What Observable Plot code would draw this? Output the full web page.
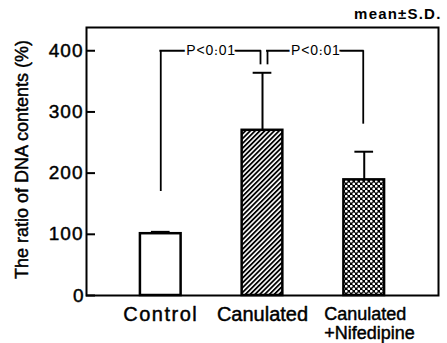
<!DOCTYPE html>
<html>
<head>
<meta charset="utf-8">
<script src="https://cdn.jsdelivr.net/npm/d3@7"></script>
<script src="https://cdn.jsdelivr.net/npm/@observablehq/plot@0.6"></script>
<style>
  html, body { margin: 0; padding: 0; background: #fff; }
  svg { display: block; }
</style>
</head>
<body>
<div id="chart"></div>
<script>
// ---- data ----
const groups = ["Control", "Canulated", "Canulated+Nifedipine"];
const groupLabels = ["Control", "Canulated", "Canulated\n+Nifedipine"];
const means = [101, 270, 189];
const sds = [3, 94, 46];
const yTicks = [0, 100, 200, 300, 400];
const noteText = "mean±S.D.";
const yLabel = "The ratio of DNA contents (%)";

// significance brackets
const pLabels = ["P<0.01", "P<0.01"];
const pFrom = ["Control", "Canulated"];
const pTo = ["Canulated", "Canulated+Nifedipine"];
const pTop = [400, 400];
const pLeftEnd = [170, 377];
const pRightEnd = [377, 280];

// ---- layout / style ----
const W = 447, H = 343;
const mL = 86, mR = 9, mT = 27, mB = 48;
const padIn = 0.6, padOut = 0.53;
const font = "'Liberation Sans', Arial, sans-serif";
const fills = ["white", "url(#hatch)", "url(#cross)"];
const legDx = [[0, -2], [5, -1]]; // pixel nudges of bracket legs (left, right)
const heavy = {stroke: "black", strokeWidth: 0.45};

const xs = d3.scaleBand().domain(groups).range([mL, W - mR]).paddingInner(padIn).paddingOuter(padOut);
const bw = xs.bandwidth(), step = xs.step();

const rows = groups.map((g, i) => ({group: g, label: groupLabels[i], mean: means[i], sd: sds[i]}));
const brackets = pLabels.map((l, i) => ({label: l, from: pFrom[i], to: pTo[i], top: pTop[i], le: pLeftEnd[i], re: pRightEnd[i]}));

const marks = [];
// brackets
brackets.forEach((b, i) => {
  const [dl, dr] = legDx[i];
  marks.push(Plot.ruleX([b], {x: "from", y1: "le", y2: "top", dx: dl, stroke: "black", strokeWidth: 1.8}));
  marks.push(Plot.ruleX([b], {x: "to", y1: "re", y2: "top", dx: dr, stroke: "black", strokeWidth: 1.8}));
  marks.push(Plot.ruleY([b], {x1: "from", x2: "to", y: "top", insetLeft: bw / 2 + dl - 0.9, insetRight: bw / 2 - dr - 0.9, stroke: "black", strokeWidth: 1.8}));
  marks.push(Plot.text([b], {x: "from", y: "top", text: "label", dx: (dl + step + dr) / 2 + 0.5, fontSize: 14, fontFamily: font, fill: "black", stroke: "white", strokeWidth: 5, paintOrder: "stroke"}));
});
// error bars
marks.push(Plot.ruleX(rows, {x: "group", y1: "mean", y2: d => d.mean + d.sd, stroke: "black", strokeWidth: 2}));
marks.push(Plot.tickY(rows, {x: "group", y: d => d.mean + d.sd, insetLeft: 11, insetRight: 11, stroke: "black", strokeWidth: 2}));
// bars
rows.forEach((r, i) => {
  marks.push(Plot.barY([r], {x: "group", y: "mean", fill: fills[i], stroke: "black", strokeWidth: 2.5}));
});
// frame and inward ticks
marks.push(Plot.frame({stroke: "black", strokeWidth: 2}));
marks.push(Plot.tickY(yTicks, {y: d => d, insetRight: (W - mL - mR) - 9, stroke: "black", strokeWidth: 2}));
// tick labels
marks.push(Plot.text(yTicks, {y: d => d, text: d => String(d), frameAnchor: "left", textAnchor: "end", dx: -3, fontSize: 19, fontFamily: font, fill: "black", ...heavy}));
// y label
marks.push(Plot.text([yLabel], {frameAnchor: "left", textAnchor: "middle", rotate: -90, dx: -64, dy: -2, fontSize: 18, fontFamily: font, fill: "black", ...heavy}));
// x labels
marks.push(Plot.text(rows.slice(0, 2), {x: "group", text: "label", frameAnchor: "bottom", lineAnchor: "top", dy: 11, fontSize: 20, fontFamily: font, fill: "black", ...heavy}));
marks.push(Plot.text(rows.slice(2), {x: "group", text: "label", frameAnchor: "bottom", lineAnchor: "top", textAnchor: "start", dx: -40, dy: 11, fontSize: 18, lineHeight: 1.05, fontFamily: font, fill: "black", ...heavy}));
// note
marks.push(Plot.text([noteText], {frameAnchor: "top-right", textAnchor: "end", lineAnchor: "bottom", dx: 3, dy: -9, fontSize: 15, fontWeight: "bold", fontFamily: font, fill: "black"}));

const svg = Plot.plot({
  width: W, height: H,
  marginLeft: mL, marginRight: mR, marginTop: mT, marginBottom: mB,
  style: {background: "white", fontFamily: font},
  x: {type: "band", domain: groups, paddingInner: padIn, paddingOuter: padOut, round: false, axis: null},
  y: {domain: [0, 438], axis: null},
  marks
});

// patterns
const defs = d3.select(svg).insert("defs", ":first-child");
const hatch = defs.append("pattern").attr("id", "hatch").attr("patternUnits", "userSpaceOnUse")
  .attr("width", 3.4).attr("height", 3.4).attr("patternTransform", "rotate(45)");
hatch.append("rect").attr("width", 3.4).attr("height", 3.4).attr("fill", "white");
hatch.append("rect").attr("width", 1.8).attr("height", 3.4).attr("fill", "black");
const cross = defs.append("pattern").attr("id", "cross").attr("patternUnits", "userSpaceOnUse")
  .attr("width", 5).attr("height", 5);
cross.append("rect").attr("width", 5).attr("height", 5).attr("fill", "black");
cross.append("circle").attr("cx", 1.25).attr("cy", 1.25).attr("r", 1.35).attr("fill", "white");
cross.append("circle").attr("cx", 3.75).attr("cy", 3.75).attr("r", 1.35).attr("fill", "white");

// typographic spacing
const spacing = {"Control": 1.5, [noteText]: 1.2, "P<0.01": 0.8, "400": 1, "300": 1, "200": 1, "100": 1};
d3.select(svg).selectAll("text").each(function () {
  const s = spacing[this.textContent];
  if (s) this.setAttribute("letter-spacing", s);
});

document.getElementById("chart").appendChild(svg);
</script>
</body>
</html>
